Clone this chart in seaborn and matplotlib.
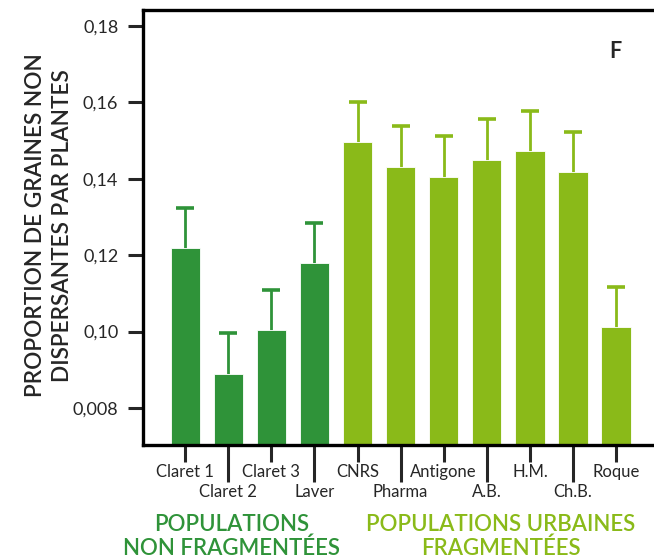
import numpy as np
import pandas as pd
import seaborn as sns
import matplotlib.pyplot as plt

# Données
populations = ["Claret 1", "Claret 2", "Claret 3", "Laver", "CNRS", "Pharma",
               "Antigone", "A.B.", "H.M.", "Ch.B.", "Roque"]
groupes = ["non"] * 4 + ["urb"] * 7
moyennes = [0.1218, 0.0889, 0.1004, 0.1180, 0.1497, 0.1432,
            0.1404, 0.1450, 0.1472, 0.1418, 0.1011]
erreurs = [0.0105, 0.0107, 0.0105, 0.0104, 0.0105, 0.0107,
           0.0107, 0.0106, 0.0106, 0.0104, 0.0106]
yticks = [0.08, 0.10, 0.12, 0.14, 0.16, 0.18]
ytick_labels = ["0,008", "0,10", "0,12", "0,14", "0,16", "0,18"]

vert_fonce = "#2f9339"
vert_clair = "#8aba19"

df = pd.DataFrame({"population": populations, "groupe": groupes, "valeur": moyennes})

sns.set_style("white")
plt.rcParams["font.family"] = ["Lato", "DejaVu Sans"]

fig = plt.figure(figsize=(6.54, 5.58), dpi=100)
ax = fig.add_axes([0.218, 0.2025, 0.782, 0.7795])

sns.barplot(data=df, x="population", y="valeur", hue="groupe",
            palette={"non": vert_fonce, "urb": vert_clair}, saturation=1,
            dodge=False, width=0.68, errorbar=None, legend=False,
            edgecolor="white", linewidth=0.6, ax=ax, zorder=2)

# barres d'erreur (vers le haut seulement)
x = np.arange(len(populations))
couleurs = [vert_fonce if g == "non" else vert_clair for g in groupes]
hauts = [m + e for m, e in zip(moyennes, erreurs)]
for xi, m, h, c in zip(x, moyennes, hauts, couleurs):
    ax.vlines(xi, m, h, color=c, linewidth=2, zorder=1)
    ax.plot(xi, h, marker="_", markersize=13, markeredgewidth=2.6, color=c, zorder=1)

ax.set_ylim(0.0703, 0.1842)
ax.set_xlim(-0.99, 10.88)
ax.set_yticks(yticks, labels=ytick_labels)
ax.tick_params(axis="y", length=11, width=2.2, labelsize=13, pad=6.5, left=True)

# étiquettes alternées
ax.set_xticks(x[::2], labels=populations[::2])
ax.set_xticks(x[1::2], labels=populations[1::2], minor=True)
ax.tick_params(axis="x", which="major", length=12, width=2.2, labelsize=12, pad=1.5, bottom=True)
ax.tick_params(axis="x", which="minor", length=26.5, width=2.2, labelsize=12, pad=1.5, bottom=True)

ax.set_xlabel("")
ax.set_ylabel("PROPORTION DE GRAINES NON\nDISPERSANTES PAR PLANTES",
              fontsize=16.3, fontweight="semibold", linespacing=1.3)
ax.yaxis.set_label_coords(-0.137, 0.505)

for s in ["left", "bottom", "top"]:
    ax.spines[s].set_linewidth(2.4)
    ax.spines[s].set_color("black")
ax.spines["right"].set_visible(False)

ax.text(0.925, 0.905, "F", transform=ax.transAxes, fontsize=15.5, fontweight="bold",
        ha="center", va="center")

fig.text(0.354, 0.039, "POPULATIONS\nNON FRAGMENTÉES", color=vert_fonce,
         fontsize=16, fontweight="semibold", ha="center", va="center", linespacing=1.15)
fig.text(0.766, 0.039, "POPULATIONS URBAINES\nFRAGMENTÉES", color=vert_clair,
         fontsize=16, fontweight="semibold", ha="center", va="center", linespacing=1.15)

fig.savefig("out.png", dpi=100)
